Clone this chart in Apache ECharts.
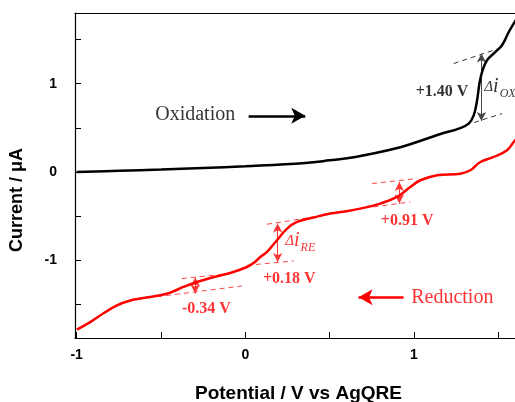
<!DOCTYPE html>
<html><head><meta charset="utf-8">
<script src="https://cdn.jsdelivr.net/npm/echarts@6/dist/echarts.min.js"></script>
<style>html,body{margin:0;padding:0;background:#fff}#c{width:515px;height:402px}</style>
</head><body><div id="c"></div>
<script>
// ---- data (potential in V vs AgQRE, current in µA) ----
const oxPotential = [-1.0, -0.75, -0.5, -0.25, 0.0, 0.356, 0.5, 0.653, 0.89, 1.049, 1.167, 1.266, 1.325, 1.355, 1.375, 1.389, 1.405, 1.434, 1.484, 1.523, 1.563, 1.592, 1.62];
const oxCurrent   = [0.0, 0.013, 0.027, 0.045, 0.065, 0.102, 0.132, 0.17, 0.265, 0.359, 0.435, 0.49, 0.547, 0.64, 0.811, 1.001, 1.133, 1.265, 1.359, 1.435, 1.585, 1.68, 1.76];

const redPotential = [-0.999, -0.92, -0.841, -0.761, -0.682, -0.604, -0.504, -0.445, -0.366, -0.287, -0.208, -0.089, 0.01, 0.049, 0.089, 0.129, 0.188, 0.248, 0.307, 0.405, 0.504, 0.6, 0.682, 0.801, 0.9, 0.979, 1.039, 1.138, 1.276, 1.335, 1.395, 1.474, 1.553, 1.592, 1.62];
const redCurrent   = [-1.785, -1.7, -1.6, -1.51, -1.455, -1.428, -1.396, -1.366, -1.302, -1.246, -1.2, -1.144, -1.076, -1.031, -0.963, -0.906, -0.773, -0.641, -0.566, -0.516, -0.471, -0.445, -0.415, -0.358, -0.283, -0.17, -0.094, -0.037, -0.019, 0.019, 0.113, 0.17, 0.245, 0.34, 0.4];

// tangent (dashed) lines: [x1, y1, x2, y2]
const oxTangents  = [[1.236, 1.228, 1.503, 1.397], [1.306, 0.529, 1.523, 0.661]];
const redTangents = [[-0.376, -1.207, -0.09, -1.15], [-0.682, -1.45, -0.02, -1.291],
                     [0.129, -0.592, 0.405, -0.51], [0.01, -1.057, 0.287, -1.008],
                     [0.752, -0.131, 1.019, -0.075], [0.761, -0.396, 0.979, -0.34]];
// step-height arrows: [x, yTop, yBottom]
const oxSteps  = [[1.401, 1.341, 0.578]];
const redSteps = [[-0.297, -1.196, -1.377], [0.192, -0.584, -1.019], [0.914, -0.113, -0.358]];
// half-wave potential labels: [x, y, text]
const oxLabels  = [[1.167, 0.906, '+1.40 V']];
const redLabels = [[0.261, -1.207, '+0.18 V'], [0.96, -0.555, '+0.91 V'], [-0.231, -1.547, '-0.34 V']];
// sweep-direction captions: [x, y, text]
const oxCaption  = [[-0.297, 0.643, 'Oxidation']];
const redCaption = [[1.228, -1.427, 'Reduction']];
// step-height symbols: [x, y, subscript]
const oxDelta  = [[1.418, 0.96, 'OX']];
const redDelta = [[0.237, -0.78, 'RE']];
// direction arrows: [xFrom, xTo, y]
const oxDirection  = [0.02, 0.356, 0.636];
const redDirection = [0.939, 0.672, -1.419];

const xTicks = [-1, -0.5, 0, 0.5, 1, 1.5];
const xTickLabels = [-1, 0, 1];
const yTicks = [-1.5, -1, -0.5, 0, 0.5, 1, 1.5];
const yTickLabels = [-1, 0, 1];

const zip = (a, b) => a.map((v, i) => [v, b[i]]);
const RED = '#ff0000';
const serif = 'Liberation Serif';
const sans = 'Liberation Sans';

function tangentSeries(list, color) {
  return list.map(t => ({
    type: 'line', data: [[t[0], t[1]], [t[2], t[3]]], showSymbol: false, silent: true,
    lineStyle: { color: color, width: 1, type: [5, 4] }, z: 3
  }));
}
function stepMarks(list) {
  return list.map(s => [{ coord: [s[0], s[1]] }, { coord: [s[0], s[2]] }]);
}
function textSeries(list, color, font) {
  return {
    type: 'scatter', symbolSize: 0, silent: true, data: list, z: 10,
    label: Object.assign({ show: true, position: 'inside', formatter: p => p.data[2], color: color,
      fontFamily: serif }, font)
  };
}
function deltaSeries(list, color) {
  return {
    type: 'scatter', symbolSize: 0, silent: true, data: list, z: 10,
    label: { show: true, position: 'right', distance: 0, color: color,
      formatter: p => '{d|Δ}{i|i}{s|' + p.data[2] + '}',
      rich: {
        d: { fontFamily: serif, fontStyle: 'italic', fontSize: 15, color: color },
        i: { fontFamily: serif, fontStyle: 'italic', fontSize: 20, color: color },
        s: { fontFamily: serif, fontStyle: 'italic', fontSize: 12, color: color, padding: [14, 0, 0, 1] }
      }
    }
  };
}

const chart = echarts.init(document.getElementById('c'));
chart.setOption({
  animation: false,
  grid: { left: 75, top: 13, bottom: 64, right: 0 },
  xAxis: [{
    type: 'value', min: -1.01, max: 1.6, position: 'bottom',
    axisLine: { onZero: false, lineStyle: { color: '#000', width: 1.2 } },
    axisTick: { inside: true, length: 6, customValues: xTicks, lineStyle: { color: '#000' } },
    axisLabel: { customValues: xTickLabels, margin: 10, color: '#000', fontFamily: sans, fontWeight: 'bold', fontSize: 14 },
    splitLine: { show: false }
  }, {
    type: 'value', min: -1.01, max: 1.6, position: 'top',
    axisLine: { show: true, onZero: false, lineStyle: { color: '#000', width: 1.2 } },
    axisTick: { show: false }, axisLabel: { show: false }, splitLine: { show: false }
  }],
  yAxis: [{
    type: 'value', min: -1.88, max: 1.8,
    axisLine: { show: true, onZero: false, lineStyle: { color: '#000', width: 1.2 } },
    axisTick: { show: true, inside: true, length: 6, customValues: yTicks, lineStyle: { color: '#000' } },
    axisLabel: { customValues: yTickLabels, margin: 18, color: '#000', fontFamily: sans, fontWeight: 'bold', fontSize: 14 },
    splitLine: { show: false }
  }],
  graphic: [
    { type: 'text', x: 8, y: 252, rotation: Math.PI / 2, style: { text: 'Current / μA', fontFamily: sans, fontWeight: 'bold', fontSize: 18, fill: '#000' } },
    { type: 'text', left: 195, top: 384, style: { text: 'Potential / V vs AgQRE', fontFamily: sans, fontWeight: 'bold', fontSize: 19, fill: '#000' } }
  ],
  series: [
    {
      name: 'Oxidation', type: 'line', data: zip(oxPotential, oxCurrent), smooth: 0.4, showSymbol: false,
      lineStyle: { color: '#000', width: 2.5 }, z: 5,
      markLine: {
        silent: true, symbol: ['arrow', 'arrow'], symbolSize: [7, 9], label: { show: false },
        lineStyle: { color: '#444', width: 1, type: 'solid' },
        data: stepMarks(oxSteps).concat([[
          { coord: [oxDirection[0], oxDirection[2]], symbol: 'none', lineStyle: { color: '#000', width: 2.5 } },
          { coord: [oxDirection[1], oxDirection[2]], symbol: 'arrow', symbolSize: [12, 14] }
        ]])
      }
    },
    {
      name: 'Reduction', type: 'line', data: zip(redPotential, redCurrent), smooth: 0.4, showSymbol: false,
      lineStyle: { color: RED, width: 2.5 }, z: 5,
      markLine: {
        silent: true, symbol: ['arrow', 'arrow'], symbolSize: [7, 9], label: { show: false },
        lineStyle: { color: '#ff3333', width: 1, type: 'solid' },
        data: stepMarks(redSteps).concat([[
          { coord: [redDirection[0], redDirection[2]], symbol: 'none', lineStyle: { color: RED, width: 2.5 } },
          { coord: [redDirection[1], redDirection[2]], symbol: 'arrow', symbolSize: [12, 14] }
        ]])
      }
    },
    ...tangentSeries(oxTangents, '#333'),
    ...tangentSeries(redTangents, '#ff4444'),
    textSeries(oxLabels, '#000', { fontWeight: 'bold', fontSize: 16 }),
    textSeries(redLabels, RED, { fontWeight: 'bold', fontSize: 16 }),
    textSeries(oxCaption, '#000', { fontSize: 20 }),
    textSeries(redCaption, RED, { fontSize: 20 }),
    deltaSeries(oxDelta, '#000'),
    deltaSeries(redDelta, RED)
  ]
});
</script></body></html>
